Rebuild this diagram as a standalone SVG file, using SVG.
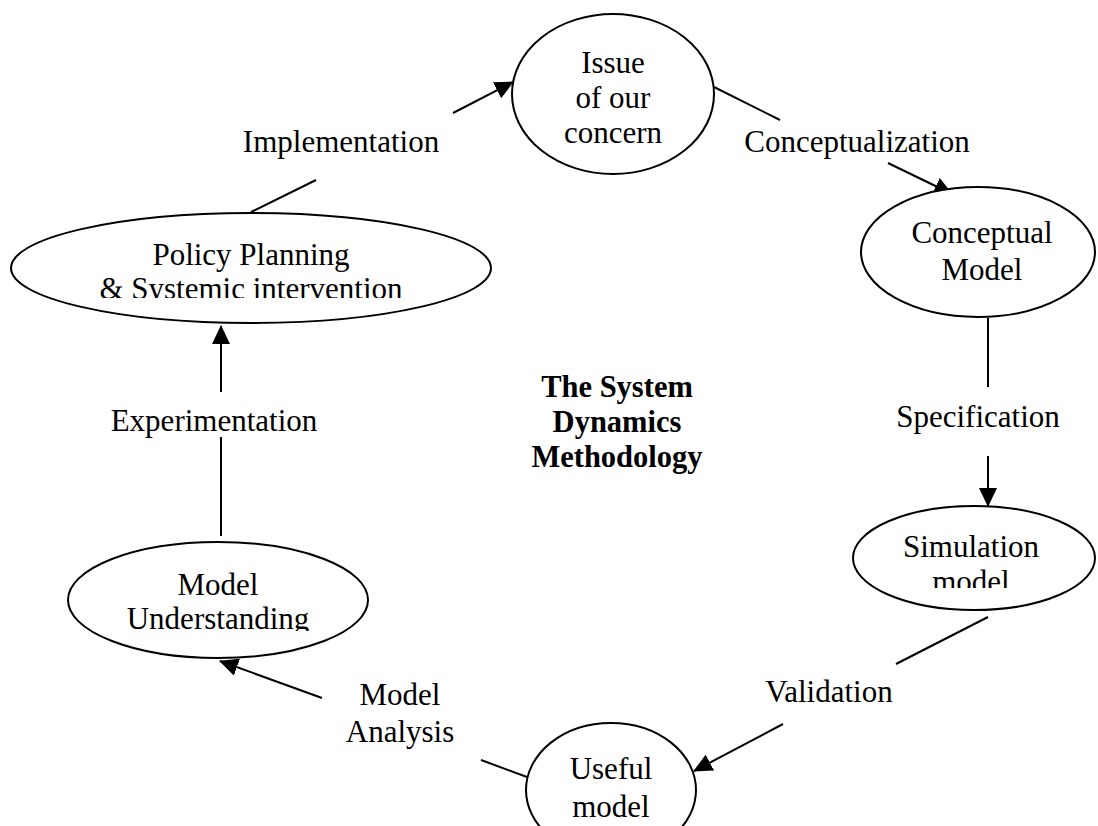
<svg xmlns="http://www.w3.org/2000/svg" width="1098" height="826" viewBox="0 0 1098 826">
<style>
.n{fill:#fff;stroke:#000;stroke-width:2}
.t{font-family:"Liberation Serif","Times New Roman","DejaVu Serif",serif;font-size:31px;fill:#000;text-anchor:middle}
.b{font-family:"Liberation Serif","Times New Roman","DejaVu Serif",serif;font-size:30.5px;font-weight:bold;fill:#000;text-anchor:middle}
.c{stroke:#000;stroke-width:2;fill:none}
</style>
<defs>
<marker id="ah" markerWidth="19" markerHeight="18" refX="18" refY="9" orient="auto" markerUnits="userSpaceOnUse" viewBox="0 0 19 18">
<path d="M0,0 L19,9 L0,18 Z" fill="#000"/>
</marker>
<clipPath id="cpSim"><rect x="850" y="500" width="250" height="88"/></clipPath>
<clipPath id="cpPol"><rect x="0" y="200" width="500" height="98"/></clipPath>
<clipPath id="cpMU"><rect x="60" y="530" width="320" height="101"/></clipPath>
</defs>
<rect width="1098" height="826" fill="#fff"/>
<g id="connectors">
<line class="c" x1="453" y1="113" x2="513" y2="82" marker-end="url(#ah)"/>
<line class="c" x1="251" y1="212" x2="316" y2="180"/>
<line class="c" x1="714" y1="87" x2="780" y2="120"/>
<line class="c" x1="888" y1="163" x2="952" y2="194" marker-end="url(#ah)"/>
<line class="c" x1="988" y1="318" x2="988" y2="387"/>
<line class="c" x1="988" y1="456" x2="988" y2="506" marker-end="url(#ah)"/>
<line class="c" x1="988" y1="617" x2="896" y2="664"/>
<line class="c" x1="783" y1="724" x2="694" y2="771" marker-end="url(#ah)"/>
<line class="c" x1="527" y1="777" x2="481" y2="760"/>
<line class="c" x1="322" y1="698" x2="220" y2="661" marker-end="url(#ah)"/>
<line class="c" x1="221" y1="536" x2="221" y2="437"/>
<line class="c" x1="221" y1="392" x2="221" y2="326" marker-end="url(#ah)"/>
</g>
<g id="labels">
<text class="t" x="341" y="152">Implementation</text>
<text class="t" x="857" y="152">Conceptualization</text>
<text class="t" x="978" y="427">Specification</text>
<text class="t" x="829" y="702">Validation</text>
<text class="t" x="400" y="705">Model</text>
<text class="t" x="400" y="742">Analysis</text>
<text class="t" x="214" y="431">Experimentation</text>
</g>
<g id="title">
<text class="b" x="617" y="397">The System</text>
<text class="b" x="617" y="432">Dynamics</text>
<text class="b" x="617" y="467">Methodology</text>
</g>
<g id="issue">
<ellipse class="n" cx="613" cy="94" rx="101" ry="80"/>
<text class="t" x="613" y="73">Issue</text>
<text class="t" x="613" y="108">of our</text>
<text class="t" x="613" y="143">concern</text>
</g>
<g id="conceptual">
<ellipse class="n" cx="978" cy="252" rx="117" ry="65"/>
<text class="t" x="982" y="243">Conceptual</text>
<text class="t" x="982" y="280">Model</text>
</g>
<g id="simulation">
<ellipse class="n" cx="974" cy="558" rx="121" ry="52"/>
<g clip-path="url(#cpSim)">
<text class="t" x="971" y="557">Simulation</text>
<text class="t" x="971" y="592">model</text>
</g>
</g>
<g id="useful">
<ellipse class="n" cx="611" cy="790" rx="85" ry="67"/>
<text class="t" x="611" y="779">Useful</text>
<text class="t" x="611" y="817">model</text>
</g>
<g id="understanding">
<ellipse class="n" cx="218" cy="600" rx="150" ry="58"/>
<g clip-path="url(#cpMU)">
<text class="t" x="218" y="595">Model</text>
<text class="t" x="218" y="629">Understanding</text>
</g>
</g>
<g id="policy">
<ellipse class="n" cx="251" cy="268" rx="240" ry="55"/>
<g clip-path="url(#cpPol)">
<text class="t" x="251" y="265">Policy Planning</text>
<text class="t" x="251" y="299">&amp; Systemic intervention</text>
</g>
</g>
</svg>
